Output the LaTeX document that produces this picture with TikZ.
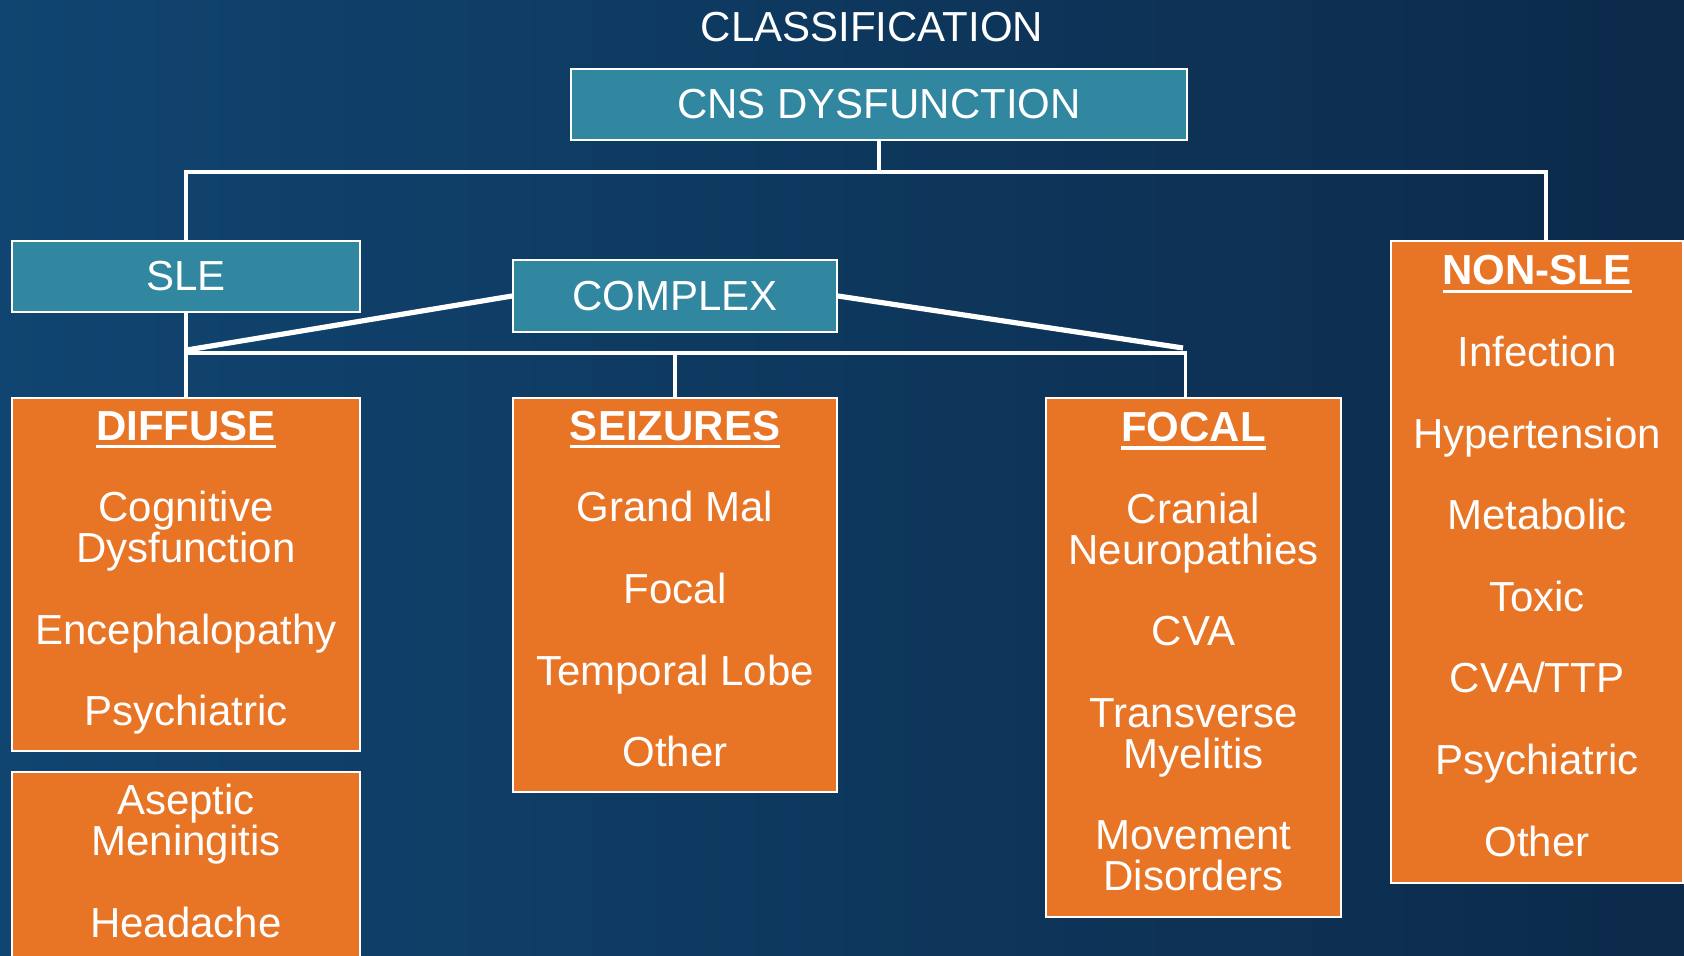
\documentclass[tikz,border=0pt]{standalone}
\usepackage{fontspec}
\setmainfont{Liberation Sans}
\usepackage{xcolor}
\usetikzlibrary{positioning,calc}

\definecolor{tealbox}{HTML}{3287A0}
\definecolor{orangebox}{HTML}{E87426}
\definecolor{bgleft}{HTML}{104571}
\definecolor{bgright}{HTML}{0C2A4A}

\newcommand{\mainsize}{\fontsize{21pt}{20.4pt}\selectfont}
\newsavebox{\headbox}
\newcommand{\ulhead}[1]{\sbox{\headbox}{\bfseries #1}\rlap{\rule[-4pt]{\wd\headbox}{1.6pt}}\usebox{\headbox}}
\newlength{\itemgap}
\setlength{\itemgap}{20.4pt}

\begin{document}
\begin{tikzpicture}[
    x=0.5pt, y=-0.5pt,
    titlebox/.style={draw=white, line width=0.9pt, fill=tealbox, text=white, font=\mainsize, inner sep=0pt},
    listbox/.style={draw=white, line width=0.9pt, fill=orangebox, text=white, font=\mainsize, align=center, inner sep=0pt, execute at end node=\strut},
    wire/.style={white, line width=1.7pt},
    slantwire/.style={white, line width=2.6pt}
]
    % Background
    \useasboundingbox (0,0) rectangle (1684,956);
    \shade[left color=bgleft, right color=bgright] (0,0) rectangle (1684,956);

    % Title
    \node[font=\mainsize, text=white] (title) at (872,27) {CLASSIFICATION};

    % Main box
    \node[titlebox, minimum width=308pt, minimum height=35.5pt] (cns) at (879,104.5) {CNS DYSFUNCTION};

    % Second level
    \node[titlebox, minimum width=174pt, minimum height=35.5pt] (sle) at (186,276.5) {SLE};
    \node[titlebox, minimum width=162pt, minimum height=36pt] (complex) at (675,296) {COMPLEX};
    \node[listbox, minimum width=146pt, minimum height=321pt] (nonsle) at (1537,562) {\ulhead{NON-SLE}\\[\itemgap]Infection\\[\itemgap]Hypertension\\[\itemgap]Metabolic\\[\itemgap]Toxic\\[\itemgap]CVA/TTP\\[\itemgap]Psychiatric\\[\itemgap]Other};

    % SLE groups
    \node[listbox, minimum width=174pt, minimum height=176.5pt] (diffuse) at (186,574.5) {\ulhead{DIFFUSE}\\[\itemgap]Cognitive\\Dysfunction\\[\itemgap]Encephalopathy\\[\itemgap]Psychiatric};
    \node[listbox, minimum width=174pt, minimum height=95pt] (aseptic) at (186,867) {Aseptic\\Meningitis\\[\itemgap]Headache};
    \node[listbox, minimum width=162pt, minimum height=197pt] (seizures) at (675,595) {\ulhead{SEIZURES}\\[\itemgap]Grand Mal\\[\itemgap]Focal\\[\itemgap]Temporal Lobe\\[\itemgap]Other};
    \node[listbox, minimum width=147.5pt, minimum height=259.5pt] (focal) at (1193.5,657.5) {\ulhead{FOCAL}\\[\itemgap]Cranial\\Neuropathies\\[\itemgap]CVA\\[\itemgap]Transverse\\Myelitis\\[\itemgap]Movement\\Disorders};

    % Connections
    \coordinate (split) at (879,172);
    \draw[wire] (cns.south) -- (split);
    \draw[wire] (sle.north) |- (split) -| ($(nonsle.north)+(9,0)$);

    \coordinate (bus) at (186,353);
    \draw[wire] (sle.south) -- (diffuse.north);
    \draw[wire] (bus) -| ($(focal.north)+(-8,0)$);
    \draw[wire] (seizures.north) -- (seizures.north |- bus);

    \coordinate (joinleft) at (187,350);
    \coordinate (joinright) at (1183,348);
    \draw[slantwire] (complex.west) -- (joinleft);
    \draw[slantwire] (complex.east) -- (joinright);
\end{tikzpicture}
\end{document}
